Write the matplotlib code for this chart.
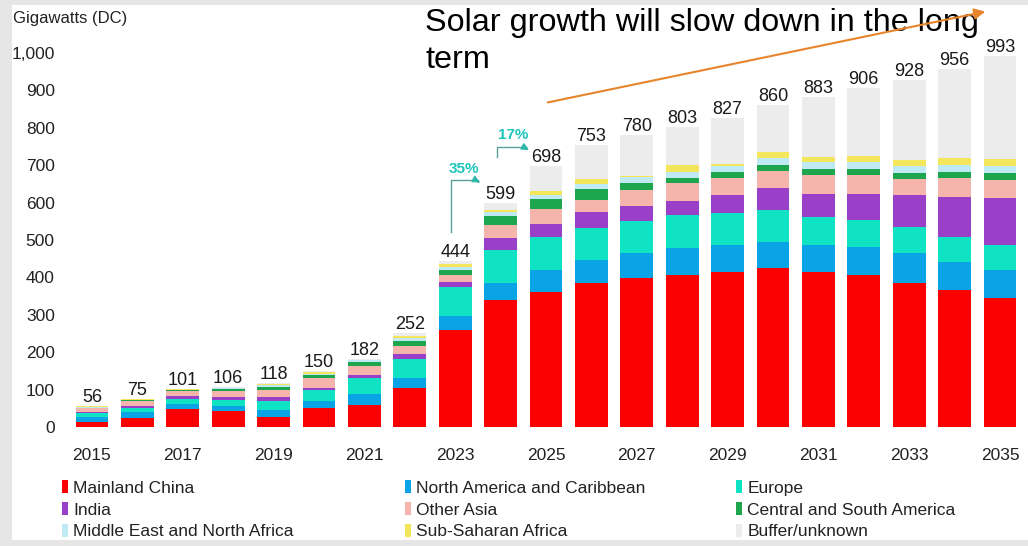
import matplotlib
matplotlib.use("Agg")
import matplotlib.pyplot as plt
from matplotlib.patches import Rectangle, Patch, FancyArrowPatch
from matplotlib import font_manager

# fonts: narrow face for the chart text if present, plain sans for the headline
names = {f.name for f in font_manager.fontManager.ttflist}
NARROW = ['Liberation Sans Narrow', 'DejaVu Sans'] if 'Liberation Sans Narrow' in names else ['Liberation Sans', 'DejaVu Sans']
plt.rcParams['font.family'] = NARROW

years = list(range(2015, 2036))
totals = [56, 75, 101, 106, 118, 150, 182, 252, 444, 599, 698,
          753, 780, 803, 827, 860, 883, 906, 928, 956, 993]

china = [14, 25, 48, 42, 28, 50, 60, 105, 260, 340, 362,
         384, 398, 406, 415, 424, 415, 406, 384, 366, 344]
north_america = [12, 15, 14, 14, 18, 20, 28, 26, 38, 45, 58,
                 62, 67, 72, 71, 71, 71, 76, 80, 76, 76]
europe = [12, 12, 12, 16, 24, 28, 42, 50, 76, 88, 88,
          85, 85, 89, 85, 85, 76, 71, 71, 67, 67]
india = [2, 3, 9, 9, 10, 6, 10, 14, 14, 32, 36,
         45, 40, 38, 49, 58, 62, 71, 85, 107, 125]
other_asia = [10, 14, 12, 16, 18, 26, 22, 22, 18, 34, 40,
              31, 44, 47, 45, 47, 49, 49, 44, 49, 49]
central_south_america = [2, 2, 3, 5, 8, 8, 12, 14, 14, 26, 25,
                         30, 18, 13, 16, 15, 18, 18, 16, 16, 18]
mena = [2, 2, 2, 2, 6, 5, 4, 8, 8, 10, 12,
        14, 16, 18, 16, 20, 18, 18, 18, 20, 20]
sub_saharan = [1, 1, 1, 1, 3, 4, 2, 5, 8, 6, 10,
               13, 4, 17, 5, 15, 12, 16, 16, 18, 18]
buffer_unknown = [1, 1, 0, 1, 3, 3, 2, 8, 8, 18, 67,
                  89, 108, 103, 125, 125, 162, 181, 214, 237, 276]

series = [
    ("Mainland China", china, "#fb0000"),
    ("North America and Caribbean", north_america, "#0aa3e6"),
    ("Europe", europe, "#0fe3c4"),
    ("India", india, "#9a3fc8"),
    ("Other Asia", other_asia, "#f6b5ac"),
    ("Central and South America", central_south_america, "#1ea64e"),
    ("Middle East and North Africa", mena, "#bfeaf3"),
    ("Sub-Saharan Africa", sub_saharan, "#f3e65a"),
    ("Buffer/unknown", buffer_unknown, "#ececec"),
]

fig = plt.figure(figsize=(10.28, 5.46), dpi=100)
fig.patch.set_facecolor("#e6e6e6")
fig.patches.append(Rectangle((12 / 1028, 6 / 546), 1 - 12 / 1028, 535 / 546,
                             transform=fig.transFigure, facecolor="white",
                             edgecolor="none", zorder=-5))

ax = fig.add_axes([28.4 / 1028, 119 / 546, 998.8 / 1028, 392.7 / 546])
ax.set_facecolor("none")
ax.set_zorder(2)

bottom = [0] * len(years)
containers = []
for name, vals, color in series:
    bars = ax.bar(years, vals, width=0.72, bottom=bottom, color=color,
                  edgecolor="none", label=name)
    bottom = [b + v for b, v in zip(bottom, vals)]
    containers.append(bars)

ax.bar_label(containers[-1], labels=[str(t) for t in totals], padding=0,
             fontsize=13, color="#1a1a1a")

ax.set_xlim(2013.6, 2035.6)
ax.set_ylim(0, 1050)
ax.set_xticks(years[::2])
ax.set_xticklabels([str(y) for y in years[::2]])
ax.set_yticks(range(0, 1001, 100))
ax.set_yticklabels([f"{v:,}" for v in range(0, 1001, 100)])
ax.tick_params(axis="y", length=0, pad=-19, labelsize=12.5, labelcolor="#222222")
ax.tick_params(axis="x", length=0, pad=15, labelsize=12.5, labelcolor="#222222")
for s in ax.spines.values():
    s.set_visible(False)

# growth brackets
teal = "#2fb8aa"
ax.plot([2022.9, 2022.9, 2023.5], [522, 660, 660], color="#5a9f98", lw=1)
ax.annotate("", xy=(2023.6, 650), xytext=(2023.45, 660),
            arrowprops=dict(arrowstyle="-|>", color=teal, lw=1.2, mutation_scale=10))
ax.text(2023.2, 670, "35%", color="#1cc6bd", fontsize=11, fontweight="bold",
        ha="center", va="bottom")
ax.plot([2023.92, 2023.92, 2024.55], [722, 749, 749], color="#5a9f98", lw=1)
ax.annotate("", xy=(2024.68, 737), xytext=(2024.5, 749),
            arrowprops=dict(arrowstyle="-|>", color=teal, lw=1.2, mutation_scale=10))
ax.text(2024.28, 762, "17%", color="#1cc6bd", fontsize=11, fontweight="bold",
        ha="center", va="bottom")

fig.text(13 / 1028, 1 - 18 / 546, "Gigawatts (DC)", fontsize=12,
         color="#222222", va="center", ha="left")

# headline, written as two lines so the short second line keeps its own box
headline = ["Solar growth will slow down in the long", "term"]
for k, line in enumerate(headline):
    fig.text(425 / 1028, 1 - (8 + 37 * k) / 546, line,
             family=["Liberation Sans", "DejaVu Sans"], fontsize=23.3,
             color="black", ha="left", va="top", zorder=5)
fig.patches.append(FancyArrowPatch(
    (545 / 1028, 1 - 103 / 546), (988 / 1028, 1 - 11 / 546),
    transform=fig.transFigure, arrowstyle="-|>", mutation_scale=16,
    color="#e8852c", lw=1.5, zorder=6))

# legend: one column per call so each column starts where it does in the source
col_x = [55, 398, 729]
for c, x0 in enumerate(col_x):
    idx = [c, c + 3, c + 6]
    fig.legend([Patch(facecolor=series[i][2], edgecolor="none") for i in idx],
               [series[i][0] for i in idx], loc="upper left",
               bbox_to_anchor=(x0 / 1028, 1 - 473 / 546), frameon=False,
               fontsize=12.5, handlelength=0.35, handleheight=0.8,
               handletextpad=0.3, labelspacing=0.36, borderaxespad=0,
               labelcolor="#222222")

fig.savefig("out.png", dpi=100, facecolor=fig.get_facecolor())
